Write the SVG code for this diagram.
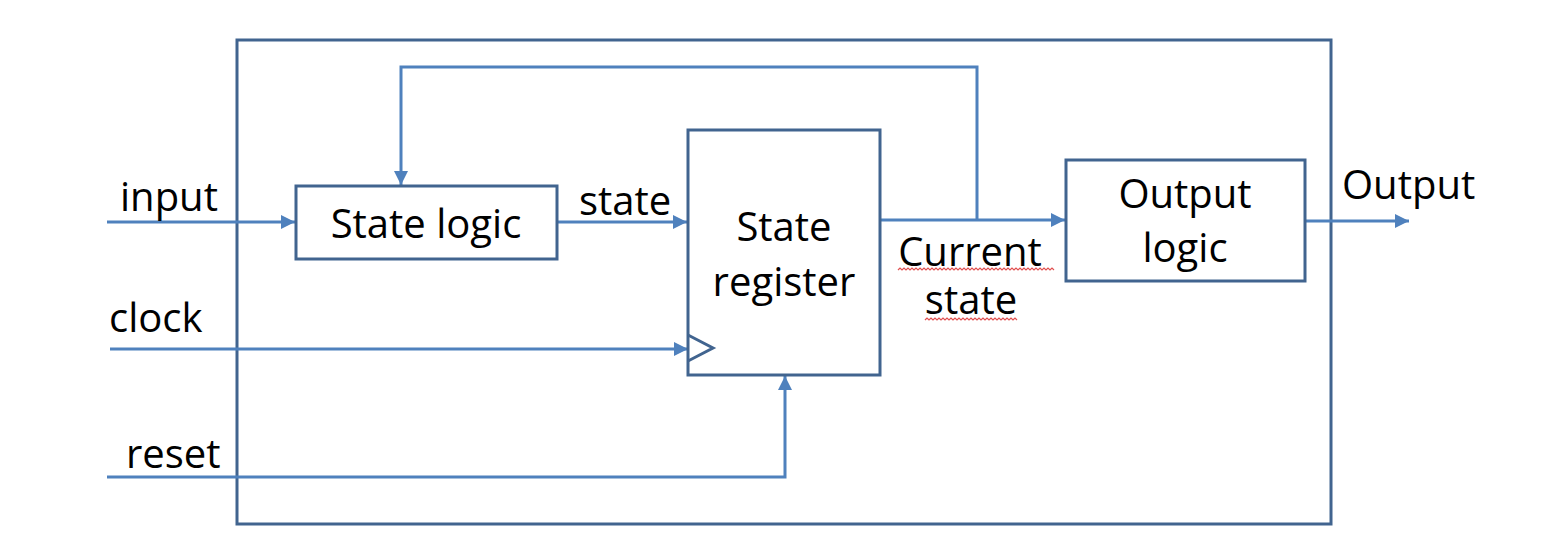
<svg xmlns="http://www.w3.org/2000/svg" width="1545" height="553" viewBox="0 0 1545 553">
<style>
.box{fill:#fff;stroke:#41648F;stroke-width:3}
.outer{fill:none;stroke:#41648F;stroke-width:3}
.wire{fill:none;stroke:#4F81BD;stroke-width:3}
.t{font-family:"Open Sans","Liberation Sans",sans-serif;font-size:40px;fill:#000}
.m{text-anchor:middle}
.sq{fill:none;stroke:#E05050;stroke-width:1.2}
</style>
<defs>
<marker id="ah" markerUnits="userSpaceOnUse" markerWidth="15" markerHeight="15" refX="14" refY="7" orient="auto">
<path d="M0,0 L14,7 L0,14 z" fill="#4F81BD"/>
</marker>
</defs>
<rect id="frame" class="outer" x="237" y="40" width="1094" height="484"/>
<g id="connectors">
<path class="wire" d="M107,222 H295" marker-end="url(#ah)"/>
<path class="wire" d="M556,222 H687" marker-end="url(#ah)"/>
<path class="wire" d="M880,220 H1065" marker-end="url(#ah)"/>
<path class="wire" d="M977,220 V67 H401 V185" marker-end="url(#ah)"/>
<path class="wire" d="M1305,221 H1409" marker-end="url(#ah)"/>
<path class="wire" d="M110,349 H688" marker-end="url(#ah)"/>
<path class="wire" d="M107,477 H785 V376" marker-end="url(#ah)"/>
</g>
<g id="state-logic">
<rect class="box" x="296" y="186" width="261" height="73"/>
<text class="t m" x="426" y="238">State logic</text>
</g>
<g id="state-register">
<rect class="box" x="688" y="130" width="192" height="245"/>
<path class="outer" d="M688,335 L713,348 L688,361"/>
<text class="t m" x="784" y="241">State</text>
<text class="t m" x="784" y="296">register</text>
</g>
<g id="output-logic">
<rect class="box" x="1066" y="160" width="239" height="121"/>
<text class="t m" x="1185" y="208">Output</text>
<text class="t m" x="1185" y="262">logic</text>
</g>
<g id="labels">
<text class="t" x="120" y="211">input</text>
<text class="t" x="579" y="215">state</text>
<text class="t" x="109" y="332">clock</text>
<text class="t" x="126" y="468">reset</text>
<text class="t" x="1342" y="199">Output</text>
<text class="t m" x="970" y="266">Current</text>
<text class="t m" x="971" y="314">state</text>
<path class="sq" d="M898,270 l2,-2 l2,2 l2,-2 l2,2 l2,-2 l2,2 l2,-2 l2,2 l2,-2 l2,2 l2,-2 l2,2 l2,-2 l2,2 l2,-2 l2,2 l2,-2 l2,2 l2,-2 l2,2 l2,-2 l2,2 l2,-2 l2,2 l2,-2 l2,2 l2,-2 l2,2 l2,-2 l2,2 l2,-2 l2,2 l2,-2 l2,2 l2,-2 l2,2 l2,-2 l2,2 l2,-2 l2,2 l2,-2 l2,2 l2,-2 l2,2 l2,-2 l2,2 l2,-2 l2,2 l2,-2 l2,2 l2,-2 l2,2 l2,-2 l2,2 l2,-2 l2,2 l2,-2 l2,2 l2,-2 l2,2 l2,-2 l2,2 l2,-2 l2,2 l2,-2 l2,2 l2,-2 l2,2 l2,-2 l2,2 l2,-2 l2,2 l2,-2 l2,2 l2,-2 l2,2 l2,-2 l2,2"/>
<path class="sq" d="M925,320 l2,-2 l2,2 l2,-2 l2,2 l2,-2 l2,2 l2,-2 l2,2 l2,-2 l2,2 l2,-2 l2,2 l2,-2 l2,2 l2,-2 l2,2 l2,-2 l2,2 l2,-2 l2,2 l2,-2 l2,2 l2,-2 l2,2 l2,-2 l2,2 l2,-2 l2,2 l2,-2 l2,2 l2,-2 l2,2 l2,-2 l2,2 l2,-2 l2,2 l2,-2 l2,2 l2,-2 l2,2 l2,-2 l2,2 l2,-2 l2,2 l2,-2 l2,2"/>
</g>
</svg>
